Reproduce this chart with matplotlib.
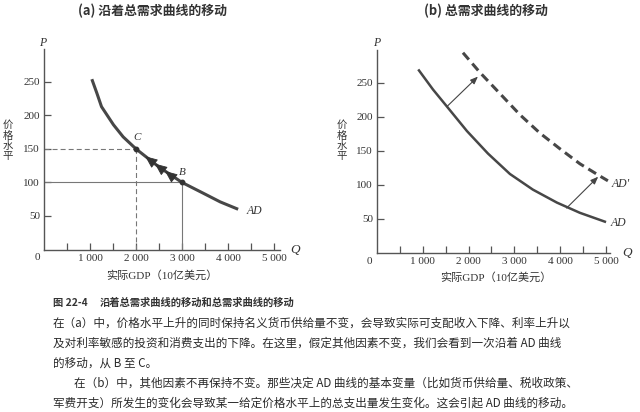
import numpy as np
import matplotlib.pyplot as plt

plt.rcParams["font.family"] = ["Liberation Serif", "Noto Sans CJK SC"]
plt.rcParams["lines.scale_dashes"] = False

W, H = 640, 412

# tick values / labels (both panels)
x_ticks = [500, 1000, 1500, 2000, 2500, 3000, 3500, 4000, 4500, 5000]
x_tick_labels = ["", "1 000", "", "2 000", "", "3 000", "", "4 000", "", "5 000"]
y_ticks = [50, 100, 150, 200, 250]
y_tick_labels = ["50", "100", "150", "200", "250"]

# panel (a): movement along AD, from B to C
a_q = [1040, 1150, 1250, 1510, 1720, 2000, 2500, 3000, 3460, 3830, 4220]
a_p = [254, 233, 213, 186, 168, 150, 123, 100, 84, 71, 60]
point_c = (2000, 150)
point_b = (3000, 100)
a_arrow_q = [2200, 2410, 2630]
a_arrow_p = [139, 128, 117]

# panel (b): shift of AD to AD'
b_q = [917, 1223, 1528, 1965, 2424, 2904, 3406, 3930, 4432, 4978]
b_p = [268, 240, 215, 179, 146, 116, 93, 74, 59, 46]
b2_q = [1878, 2249, 2686, 3122, 3559, 3996, 4432, 4869, 5044]
b2_p = [294, 265, 234, 203, 176, 153, 131, 113, 106]
shift_from = [(1528, 215), (4142, 66)]
shift_to = [(2205, 259), (4832, 112)]

titles = ["(a) 沿着总需求曲线的移动", "(b) 总需求曲线的移动"]
xlabel = "实际GDP（10亿美元）"
ylabel = "价格水平"

caption = [
    "在（a）中，价格水平上升的同时保持名义货币供给量不变，会导致实际可支配收入下降、利率上升以",
    "及对利率敏感的投资和消费支出的下降。在这里，假定其他因素不变，我们会看到一次沿着 AD 曲线",
    "的移动，从 B 至 C。",
    "在（b）中，其他因素不再保持不变。那些决定 AD 曲线的基本变量（比如货币供给量、税收政策、",
    "军费开支）所发生的变化会导致某一给定价格水平上的总支出量发生变化。这会引起 AD 曲线的移动。",
]

AX = "#555555"
INK = "#333333"
CURVE = "#474747"

fig = plt.figure(figsize=(W / 100, H / 100), dpi=100)
fig.patch.set_facecolor("white")


def px(x, y):
    return x / W, 1 - y / H


def panel(left, zero_y, width, height, xmax, ymax):
    ax = fig.add_axes([left / W, 1 - zero_y / H, width / W, height / H])
    ax.set_facecolor("none")
    ax.set_xlim(0, xmax)
    ax.set_ylim(0, ymax)
    for s in ["top", "right"]:
        ax.spines[s].set_visible(False)
    for s in ["left", "bottom"]:
        ax.spines[s].set_color(AX)
        ax.spines[s].set_linewidth(1.0)
    ax.set_xticks(x_ticks)
    ax.set_xticklabels(x_tick_labels)
    ax.set_yticks(y_ticks)
    ax.set_yticklabels(y_tick_labels)
    ax.tick_params(direction="in", length=5, width=0.9, color=AX,
                   labelsize=8, labelcolor=INK, pad=3)
    return ax


ax1 = panel(44, 249.5, 236, 200.5, 5130, 299)
ax2 = panel(377, 253, 233, 203, 5090, 298)

# ---- panel (a)
ax1.plot([0, point_c[0]], [point_c[1]] * 2, color="#777777", lw=0.8, dashes=(3.6, 2.2))
ax1.plot([point_c[0]] * 2, [0, point_c[1]], color="#777777", lw=0.8, dashes=(3.6, 2.2))
ax1.plot([0, point_b[0]], [point_b[1]] * 2, color="#777777", lw=0.8)
ax1.plot([point_b[0]] * 2, [0, point_b[1]], color="#777777", lw=0.8)
ax1.plot(a_q, a_p, color=CURVE, lw=2.2, solid_capstyle="butt")
ax1.plot(*zip(point_c, point_b), ls="none", marker="o", ms=3.2, color="#333333")
for q, p in zip(a_arrow_q, a_arrow_p):
    ax1.annotate("", xy=(q, p), xytext=(q + 160, p - 8.6),
                 arrowprops=dict(arrowstyle="-|>,head_length=0.7,head_width=0.3",
                                 lw=0.6, color="#333333", shrinkA=0, shrinkB=0,
                                 mutation_scale=11))
ax1.annotate("C", point_c, xytext=(1, 5), textcoords="offset points",
             fontsize=8, style="italic", color=INK, ha="center", va="bottom")
ax1.annotate("B", point_b, xytext=(0, 4), textcoords="offset points",
             fontsize=8, style="italic", color=INK, ha="center", va="bottom")
ax1.annotate("AD", (a_q[-1], a_p[-1]), xytext=(6, -1), textcoords="offset points",
             fontsize=8.5, style="italic", color=INK, ha="left", va="center")

# ---- panel (b)
ax2.plot(b_q, b_p, color=CURVE, lw=1.8)
ax2.plot(b2_q, b2_p, color=CURVE, lw=2.2, dashes=(6.5, 3.8))
for s, e in zip(shift_from, shift_to):
    ax2.annotate("", xy=e, xytext=s,
                 arrowprops=dict(arrowstyle="-|>,head_length=0.45,head_width=0.18",
                                 lw=0.8, color="#444444", shrinkA=0, shrinkB=0))
ax2.annotate("AD", (b_q[-1], b_p[-1]), xytext=(4, -1), textcoords="offset points",
             fontsize=8.5, style="italic", color=INK, ha="left", va="center")
ax2.annotate("AD'", (b2_q[-1], b2_p[-1]), xytext=(3, -2), textcoords="offset points",
             fontsize=8.5, style="italic", color=INK, ha="left", va="center")

# ---- axis texts
for ax, (ox, oy), (qx, qy), (yx, yy), (lx, ly), (tx, ty), t in [
    (ax1, (37, 258), (295, 250), (43, 43), (162, 275), (152, 11), titles[0]),
    (ax2, (369, 261), (627, 253), (377, 43), (496, 277), (486, 11), titles[1]),
]:
    fig.text(*px(ox, oy), "0", fontsize=8, color=INK, ha="center", va="center")
    fig.text(*px(qx, qy), "Q", fontsize=9.5, style="italic", color=INK, ha="center", va="center")
    fig.text(*px(yx, yy), "P", fontsize=8.5, style="italic", color=INK, ha="center", va="center")
    fig.text(*px(lx, ly), xlabel, fontsize=8, color=INK, ha="center", va="center")
    fig.text(*px(tx, ty), t, fontsize=9.3, fontweight="bold", color=INK,
             ha="center", va="center", family=["Noto Sans CJK SC", "DejaVu Sans"])

# vertical stacked y label
for x in (8, 342):
    for i, ch in enumerate(ylabel):
        fig.text(*px(x, 125 + i * 10.5), ch, fontsize=7.5, color=INK,
                 ha="center", va="center", family=["Noto Sans CJK SC"])

# ---- caption
cap_font = ["Noto Sans CJK SC", "DejaVu Sans"]
fig.text(*px(53, 303), "图 22-4", fontsize=7.4, fontweight="bold", color=INK,
         ha="left", va="center", family=cap_font)
fig.text(*px(100, 303), "沿着总需求曲线的移动和总需求曲线的移动", fontsize=7.4,
         fontweight="bold", color=INK, ha="left", va="center", family=cap_font)
for (x, y), line in zip([(53, 323), (53, 343), (53, 363), (74, 383), (53, 403)], caption):
    fig.text(*px(x, y), line, fontsize=8.35, color="#2a2a2a", ha="left", va="center",
             family=cap_font)

fig.savefig("out.png", dpi=100)
